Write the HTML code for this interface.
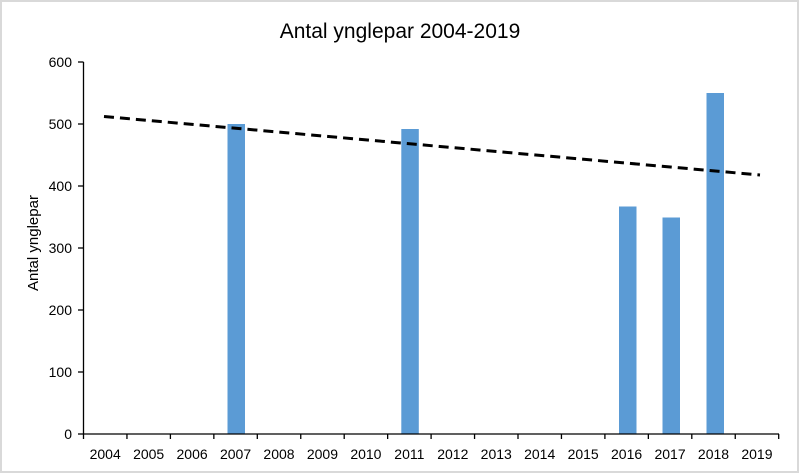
<!DOCTYPE html>
<html><head><style>
body{margin:0;background:#fff}
svg{display:block;font-family:"Liberation Sans",sans-serif}
</style></head><body>
<svg width="800" height="474" viewBox="0 0 800 474">
<rect x="1" y="1" width="797" height="471" fill="#fff" stroke="#d9d9d9" stroke-width="2"/>
<text x="400" y="38" font-size="21" text-anchor="middle" fill="#000">Antal ynglepar 2004-2019</text>
<g fill="#5b9bd5">
<rect x="227.5" y="124" width="17.5" height="310"/>
<rect x="401.3" y="129" width="17.5" height="305"/>
<rect x="619" y="206.5" width="17.5" height="227.5"/>
<rect x="662.5" y="217.5" width="17.5" height="216.5"/>
<rect x="706.5" y="93" width="17.5" height="341"/>
</g>
<g stroke="#000" stroke-width="1.3">
<line x1="83.5" y1="62" x2="83.5" y2="434"/>
<line x1="83.5" y1="434" x2="779" y2="434"/>
<line x1="78" y1="62" x2="83.5" y2="62"/>
<line x1="78" y1="124" x2="83.5" y2="124"/>
<line x1="78" y1="186" x2="83.5" y2="186"/>
<line x1="78" y1="248" x2="83.5" y2="248"/>
<line x1="78" y1="310" x2="83.5" y2="310"/>
<line x1="78" y1="372" x2="83.5" y2="372"/>
<line x1="78" y1="434" x2="83.5" y2="434"/>
</g>
<g stroke="#000" stroke-width="1.3" id="xt"></g>
<line x1="104" y1="116.5" x2="760" y2="175" stroke="#000" stroke-width="3" stroke-dasharray="10,6"/>
<g font-size="14" fill="#000" text-anchor="end">
<text x="72" y="67">600</text><text x="72" y="129">500</text><text x="72" y="191">400</text>
<text x="72" y="253">300</text><text x="72" y="315">200</text><text x="72" y="377">100</text><text x="72" y="439">0</text>
</g>
<text transform="translate(38,243) rotate(-90)" font-size="15" text-anchor="middle">Antal ynglepar</text>
<g font-size="14" text-anchor="middle" id="xl"></g>
<script>
var xt=document.getElementById('xt'),xl=document.getElementById('xl'),ns='http://www.w3.org/2000/svg';
for(var k=0;k<=16;k++){var x=83.5+43.45*k;var l=document.createElementNS(ns,'line');l.setAttribute('x1',x);l.setAttribute('x2',x);l.setAttribute('y1',434);l.setAttribute('y2',439);xt.appendChild(l);
if(k<16){var t=document.createElementNS(ns,'text');t.setAttribute('x',x+21.7);t.setAttribute('y',459);t.textContent=2004+k;xl.appendChild(t);}}
</script>
</svg>
</body></html>
